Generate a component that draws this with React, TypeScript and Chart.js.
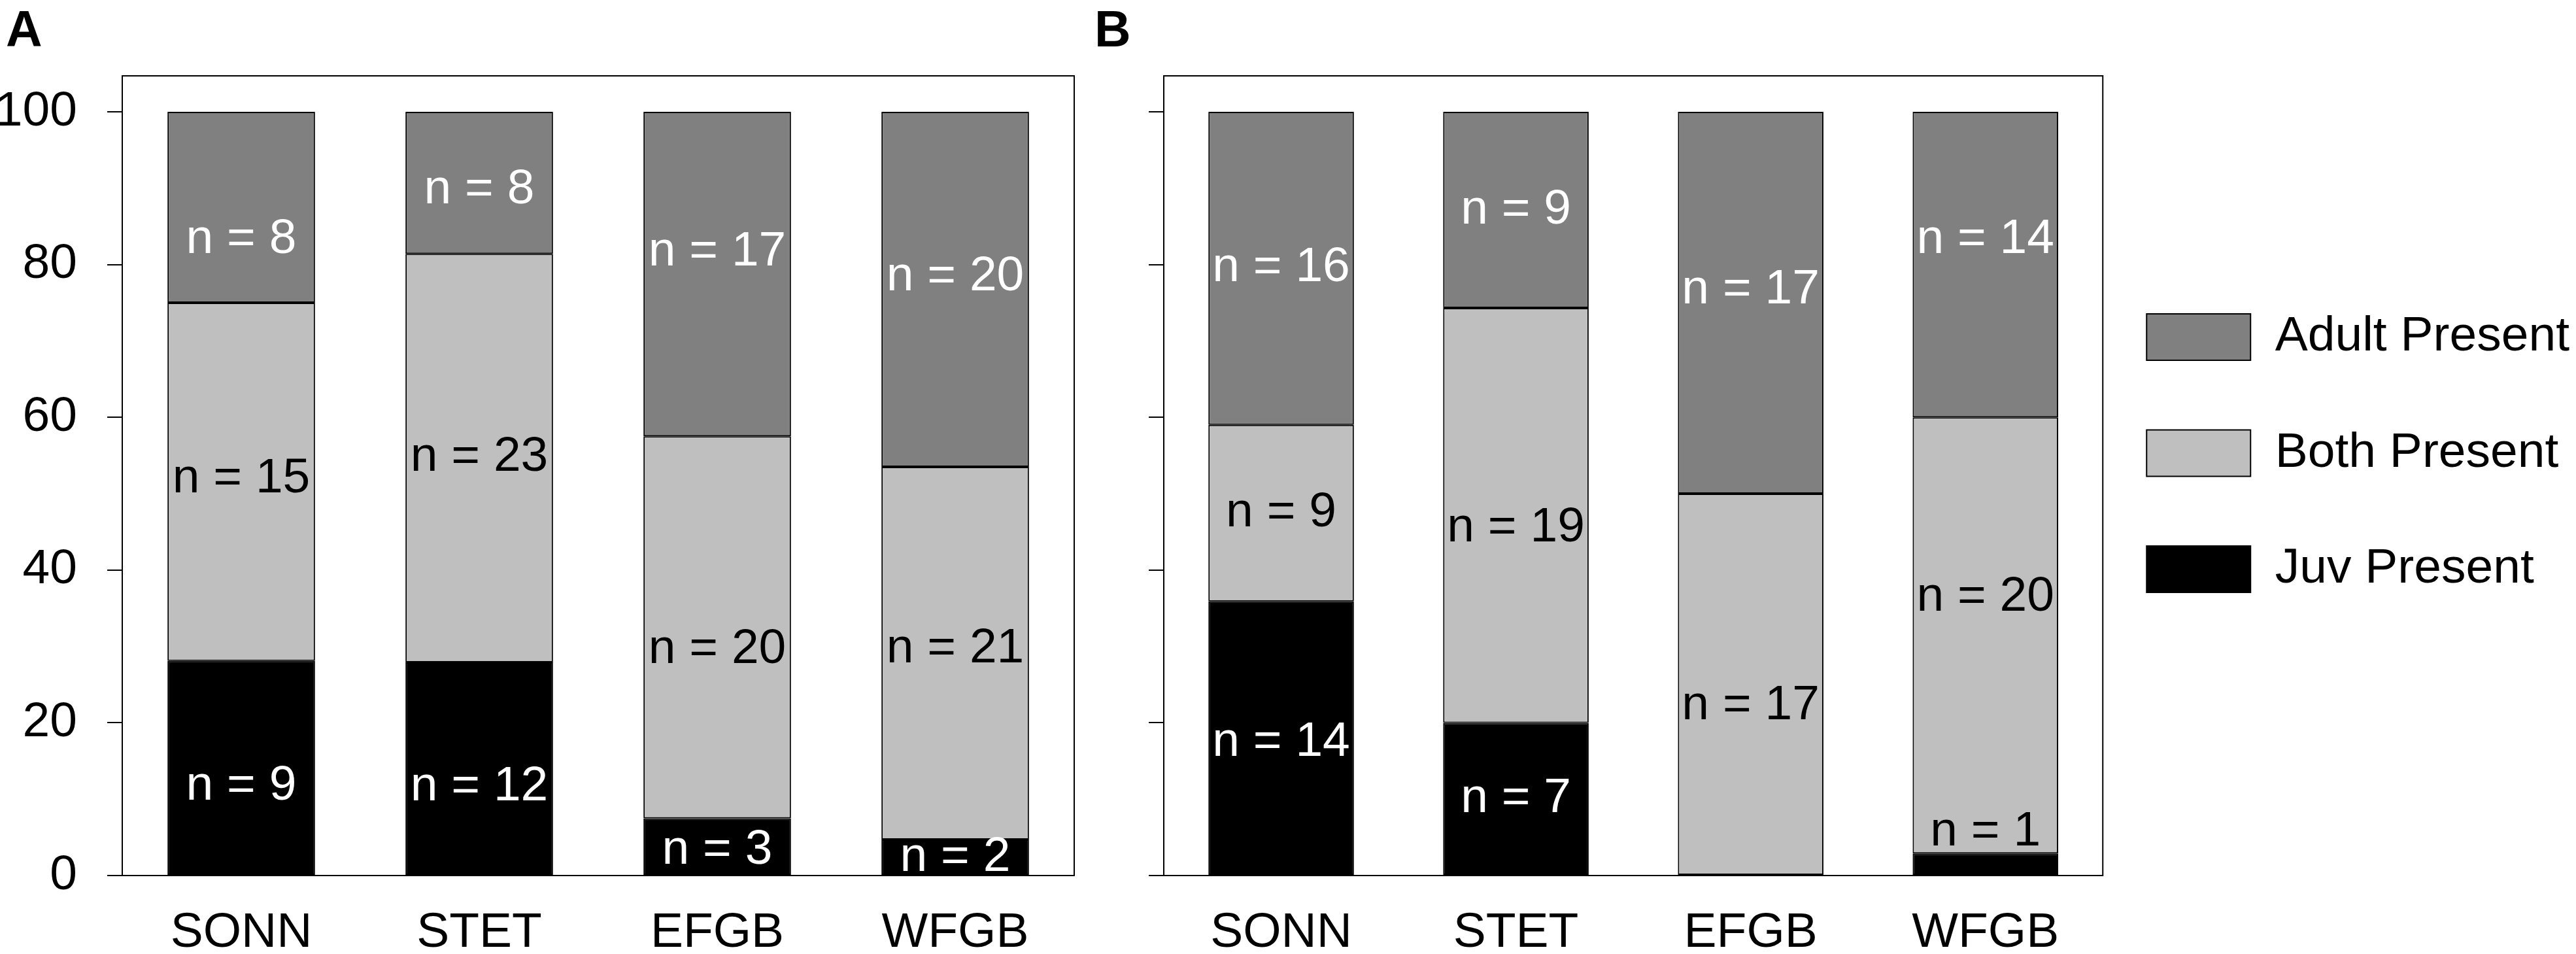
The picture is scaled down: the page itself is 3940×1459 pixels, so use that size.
import React, { useEffect, useRef } from 'react';
import { Chart, registerables } from 'chart.js';

Chart.register(...registerables);

const FONT = '"Liberation Sans", Arial, sans-serif';

// categories and tick labels
const sites = ['SONN', 'STET', 'EFGB', 'WFGB'];
const yTicks = [0, 20, 40, 60, 80, 100];

// panel A: % of samples per site
const juvA = [28.1, 27.9, 7.5, 4.7];
const bothA = [46.9, 53.5, 50.0, 48.8];
const adultA = [25.0, 18.6, 42.5, 46.5];
const juvCountA = [9, 12, 3, 2];
const bothCountA = [15, 23, 20, 21];
const adultCountA = [8, 8, 17, 20];

// panel B
const juvB = [35.9, 20.0, 0, 2.9];
const bothB = [23.1, 54.3, 50.0, 57.1];
const adultB = [41.0, 25.7, 50.0, 40.0];
const juvCountB = [14, 7, 0, 1];
const bothCountB = [9, 19, 17, 20];
const adultCountB = [16, 9, 17, 14];

// how far each "n =" label sits from its segment middle (in % units)
const juvNudgeA = [-2.4, -2.35, -0.5, 0];
const bothNudgeA = [0.35, 0.15, -2.9, 0.6];
const adultNudgeA = [-4.2, -0.9, 2.9, 1.6];
const juvNudgeB = [-0.55, 0, 0, 4.2];
const bothNudgeB = [0, -1.6, -2.8, 4.95];
const adultNudgeB = [0.1, 0, 1.7, 3.3];

const ADULT = 'rgb(128,128,128)';
const BOTH = 'rgb(191,191,191)';
const JUV = '#000000';

// box around the plot area
const framePlugin = {
  id: 'frame',
  afterDraw(chart: any) {
    const { ctx, chartArea } = chart;
    ctx.save();
    ctx.strokeStyle = '#000';
    ctx.lineWidth = 2;
    ctx.strokeRect(chartArea.left, chartArea.top, chartArea.right - chartArea.left, chartArea.bottom - chartArea.top);
    ctx.restore();
  }
};

// "n = x" labels inside the stacked segments
const countLabels = {
  id: 'countLabels',
  afterDatasetsDraw(chart: any) {
    const { ctx } = chart;
    const yScale = chart.scales.y;
    const unit = yScale.getPixelForValue(1) - yScale.getPixelForValue(0);
    ctx.save();
    ctx.font = `75px ${FONT}`;
    ctx.textAlign = 'center';
    ctx.textBaseline = 'middle';
    chart.data.datasets.forEach((ds: any, di: number) => {
      const meta = chart.getDatasetMeta(di);
      meta.data.forEach((bar: any, i: number) => {
        const n = ds.counts[i];
        if (!n) return;
        const y = (bar.y + bar.base) / 2 + ds.nudges[i] * unit;
        ctx.fillStyle = y < bar.y ? '#000' : ds.labelColor;
        ctx.fillText(`n = ${n}`, bar.x, y);
      });
    });
    ctx.restore();
  }
};

function buildConfig(p: {
  juv: number[]; both: number[]; adult: number[];
  juvN: number[]; bothN: number[]; adultN: number[];
  juvNudge: number[]; bothNudge: number[]; adultNudge: number[];
  tickLabels: boolean; axisWidth: number; padRight: number; legend: boolean;
}): any {
  const bar = {
    borderColor: '#000',
    borderWidth: 2,
    borderSkipped: false,
    barPercentage: 0.62,
    categoryPercentage: 1
  };
  return {
    type: 'bar',
    data: {
      labels: sites,
      datasets: [
        { ...bar, label: 'Juv Present', data: p.juv, backgroundColor: JUV, counts: p.juvN, nudges: p.juvNudge, labelColor: '#fff' },
        { ...bar, label: 'Both Present', data: p.both, backgroundColor: BOTH, counts: p.bothN, nudges: p.bothNudge, labelColor: '#000' },
        { ...bar, label: 'Adult Present', data: p.adult, backgroundColor: ADULT, counts: p.adultN, nudges: p.adultNudge, labelColor: '#fff' }
      ]
    },
    options: {
      responsive: false,
      animation: false,
      devicePixelRatio: 1,
      layout: { padding: { left: 0, right: p.padRight, top: 116, bottom: 0 } },
      plugins: {
        tooltip: { enabled: false },
        legend: {
          display: p.legend,
          position: 'right',
          align: 'start',
          reverse: true,
          maxWidth: 800,
          // empty title only used to push the items down
          title: { display: true, text: '', font: { size: 10 }, padding: { top: 0, bottom: 283 } },
          labels: {
            color: '#000',
            boxWidth: 159,
            boxHeight: 71,
            padding: 67,
            font: { family: FONT, size: 75, lineHeight: 110.5 / 75 },
            generateLabels: (chart: any) =>
              Chart.defaults.plugins.legend.labels
                .generateLabels(chart)
                .map((item: any) => ({ ...item, text: [item.text] }))
          }
        }
      },
      scales: {
        x: {
          stacked: true,
          grid: { display: false, drawTicks: false },
          border: { display: false },
          ticks: { color: '#000', font: { family: FONT, size: 75 }, padding: 43 },
          afterFit: (s: any) => { s.height = 120; }
        },
        y: {
          stacked: true,
          min: 0,
          max: 104.7,
          grid: { drawOnChartArea: false, tickLength: 23, color: '#000', lineWidth: 2 },
          border: { display: false },
          ticks: { display: p.tickLabels, color: '#000', font: { family: FONT, size: 75 }, padding: 46 },
          afterBuildTicks: (s: any) => { s.ticks = yTicks.map((v) => ({ value: v })); },
          afterFit: (s: any) => { s.width = p.axisWidth; }
        }
      }
    },
    plugins: [framePlugin, countLabels]
  };
}

export default function App() {
  const refA = useRef<HTMLCanvasElement>(null);
  const refB = useRef<HTMLCanvasElement>(null);

  useEffect(() => {
    if (!refA.current || !refB.current) return;
    const a = new Chart(refA.current, buildConfig({
      juv: juvA, both: bothA, adult: adultA,
      juvN: juvCountA, bothN: bothCountA, adultN: adultCountA,
      juvNudge: juvNudgeA, bothNudge: bothNudgeA, adultNudge: adultNudgeA,
      tickLabels: true, axisWidth: 187, padRight: 57, legend: false
    }));
    const b = new Chart(refB.current, buildConfig({
      juv: juvB, both: bothB, adult: adultB,
      juvN: juvCountB, bothN: bothCountB, adultN: adultCountB,
      juvNudge: juvNudgeB, bothNudge: bothNudgeB, adultNudge: adultNudgeB,
      tickLabels: false, axisWidth: 130, padRight: 0, legend: true
    }));
    return () => {
      a.destroy();
      b.destroy();
    };
  }, []);

  const letter: React.CSSProperties = {
    position: 'absolute',
    top: 6,
    font: `bold 77px ${FONT}`,
    lineHeight: '77px',
    color: '#000'
  };

  return (
    <div style={{ position: 'absolute', left: 0, top: 0, width: 3940, height: 1459, background: '#fff' }}>
      <div style={{ ...letter, left: 9 }}>A</div>
      <div style={{ ...letter, left: 1674 }}>B</div>
      <canvas ref={refA} width={1700} height={1459}
        style={{ position: 'absolute', left: 0, top: 0, width: 1700, height: 1459 }} />
      <canvas ref={refB} width={2290} height={1459}
        style={{ position: 'absolute', left: 1650, top: 0, width: 2290, height: 1459 }} />
    </div>
  );
}
